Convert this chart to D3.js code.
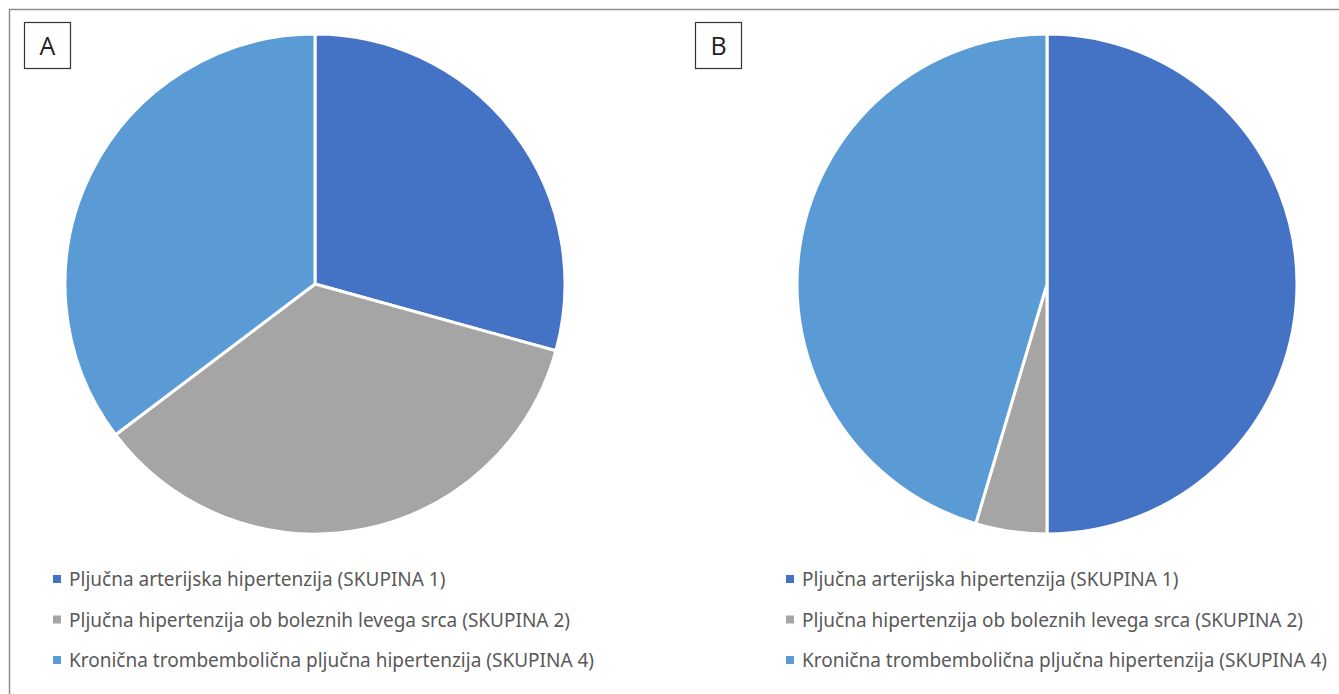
<!DOCTYPE html>
<html><head><meta charset="utf-8">
<script src="https://cdn.jsdelivr.net/npm/d3@7"></script>
<style>body{margin:0;background:#fff;}svg{display:block;}</style>
</head><body>
<svg id="c" width="1339" height="694"></svg>
<script>
const categories = [
  "Pljučna arterijska hipertenzija (SKUPINA 1)",
  "Pljučna hipertenzija ob boleznih levega srca (SKUPINA 2)",
  "Kronična trombembolična pljučna hipertenzija (SKUPINA 4)"
];
const valuesA = [29.3, 35.4, 35.3];
const valuesB = [50.0, 4.6, 45.4];
const panelLabels = ["A", "B"];
const colors = ["#4472C4", "#A5A5A5", "#5B9BD5"];

const svg = d3.select("#c");
svg.append("rect").attr("x", 9.5).attr("y", 9.5).attr("width", 1340).attr("height", 700)
  .attr("fill", "none").attr("stroke", "#8c8c8c").attr("stroke-width", 1.5);

const panels = [
  {vals: valuesA, cx: 315, cy: 284, lx: 24, ly: 22, legX: 53},
  {vals: valuesB, cx: 1047, cy: 284, lx: 695, ly: 22, legX: 786}
];
const r = 250;
const pie = d3.pie().sort(null).value(d => d);
const arc = d3.arc().innerRadius(0).outerRadius(r);

panels.forEach((p, i) => {
  const g = svg.append("g").attr("transform", `translate(${p.cx},${p.cy})`);
  g.selectAll("path").data(pie(p.vals)).join("path")
    .attr("d", arc).attr("fill", (d, j) => colors[j])
    .attr("stroke", "#fff").attr("stroke-width", 3).attr("stroke-linejoin", "round");

  svg.append("rect").attr("x", p.lx + 0.5).attr("y", p.ly + 0.5).attr("width", 46).attr("height", 46)
    .attr("fill", "#fff").attr("stroke", "#333").attr("stroke-width", 1.2);
  svg.append("text").attr("x", p.lx + 23.5).attr("y", p.ly + 33)
    .attr("text-anchor", "middle").attr("font-family", "'Open Sans', sans-serif")
    .attr("font-size", 25).attr("fill", "#222").text(panelLabels[i]);

  const leg = svg.append("g");
  categories.forEach((c, j) => {
    const y = 579 + j * 40.5;
    leg.append("rect").attr("x", p.legX).attr("y", y - 4).attr("width", 8).attr("height", 8).attr("fill", colors[j]);
    leg.append("text").attr("x", p.legX + 16).attr("y", y + 7)
      .attr("font-family", "'Noto Sans', sans-serif").attr("font-size", 19)
      .attr("fill", "#595959").text(c);
  });
});
</script>
</body></html>
